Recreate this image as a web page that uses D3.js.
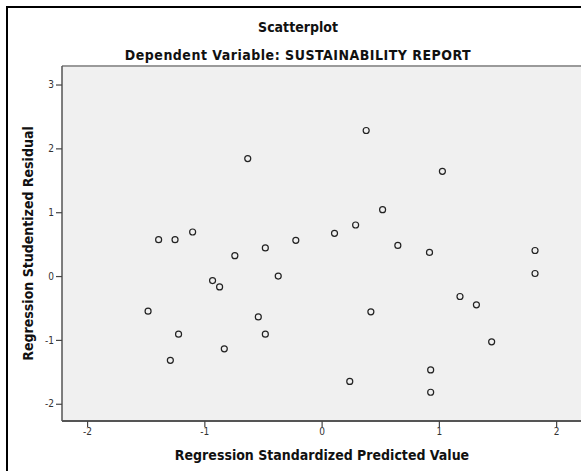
<!doctype html>
<html>

<head>
	<meta charset="UTF-8" />
	<script src="https://d3js.org/d3.v7.min.js"></script>
	<style>
		body { margin: 0; background: #fff; }
		svg { display: block; }
		.tick text { font-family: "DejaVu Sans Condensed", "DejaVu Sans", sans-serif; font-size: 10px; fill: #333; }
		.lbl { font-family: "DejaVu Sans Condensed", "DejaVu Sans", sans-serif; font-weight: bold; fill: #111; font-size: 14px; }
	</style>
</head>

<body>
	<svg id="chart"></svg>

	<script>
		// predicted values (x) and studentized residuals (y)
		const predicted = [-0.63, -1.10, -1.39, -1.25, -0.22, -0.74, -0.48, -0.93, -0.87, -0.37, -1.48, -0.54,
			-1.22, -0.48, -0.83, -1.29, 0.38, 1.03, 0.52, 0.29, 0.11, 0.65, 0.92, 1.82, 1.82, 1.18, 1.32, 0.42,
			1.45, 0.93, 0.24, 0.93];
		const residual = [1.84, 0.69, 0.57, 0.57, 0.56, 0.32, 0.44, -0.07, -0.17, 0.00, -0.55, -0.64,
			-0.91, -0.91, -1.14, -1.32, 2.28, 1.64, 1.04, 0.80, 0.67, 0.48, 0.37, 0.40, 0.04, -0.32, -0.45, -0.56,
			-1.03, -1.47, -1.65, -1.82];
		const xTicks = [-2, -1, 0, 1, 2];
		const yTicks = [-2, -1, 0, 1, 2, 3];

		const title = "Scatterplot";
		const subtitle = "Dependent Variable: SUSTAINABILITY REPORT";
		const xTitle = "Regression Standardized Predicted Value";
		const yTitle = "Regression Studentized Residual";

		const W = 581, H = 471;
		const plot = { left: 62, top: 66, right: 581, bottom: 421 };

		const svg = d3.select("#chart").attr("width", W).attr("height", H);

		const x = d3.scaleLinear().domain([-2.214, 2.212]).range([plot.left, plot.right]);
		const y = d3.scaleLinear().domain([-2.27, 3.29]).range([plot.bottom, plot.top]);

		// outer frame (only top and left visible in the crop)
		svg.append("line").attr("x1", 6).attr("x2", W).attr("y1", 7).attr("y2", 7)
			.attr("stroke", "#000").attr("stroke-width", 2);
		svg.append("line").attr("x1", 7).attr("x2", 7).attr("y1", 6).attr("y2", H)
			.attr("stroke", "#000").attr("stroke-width", 2);

		// plot background
		svg.append("rect")
			.attr("x", plot.left).attr("y", plot.top)
			.attr("width", plot.right - plot.left).attr("height", plot.bottom - plot.top)
			.attr("fill", "#f0f0f0");
		svg.append("line").attr("x1", plot.left).attr("x2", W).attr("y1", plot.top).attr("y2", plot.top)
			.attr("stroke", "#9a9a9a").attr("stroke-width", 2);

		// axes
		const xAxis = svg.append("g")
			.attr("transform", "translate(0," + plot.bottom + ")")
			.call(d3.axisBottom(x).tickValues(xTicks).tickSize(6).tickPadding(1).tickFormat(d3.format("d")));
		const yAxis = svg.append("g")
			.attr("transform", "translate(" + plot.left + ",0)")
			.call(d3.axisLeft(y).tickValues(yTicks).tickSize(6).tickPadding(2).tickFormat(d3.format("d")));

		xAxis.select(".domain").attr("stroke", "#555").attr("stroke-width", 2).attr("d", "M" + plot.left + ",0H" + W);
		yAxis.select(".domain").attr("stroke", "#555").attr("stroke-width", 1.5).attr("d", "M0," + plot.top + "V" + plot.bottom);
		svg.selectAll(".tick line").attr("stroke", "#444").attr("stroke-width", 1.2);
		xAxis.selectAll(".tick text").text(function (d) { return d < 0 ? "-" + Math.abs(d) : d; });
		yAxis.selectAll(".tick text").text(function (d) { return d < 0 ? "-" + Math.abs(d) : d; });

		// points
		const pts = predicted.map(function (v, i) { return { x: v, y: residual[i] }; });
		svg.append("g").selectAll("circle")
			.data(pts)
			.enter().append("circle")
			.attr("cx", function (d) { return x(d.x); })
			.attr("cy", function (d) { return y(d.y); })
			.attr("r", 3)
			.attr("fill", "none")
			.attr("stroke", "#222")
			.attr("stroke-width", 1.2);

		// titles
		svg.append("text").attr("class", "lbl").attr("x", 298).attr("y", 32)
			.attr("text-anchor", "middle").text(title);
		svg.append("text").attr("class", "lbl").attr("x", 298).attr("y", 60)
			.attr("text-anchor", "middle").style("letter-spacing", "0.5px").text(subtitle);
		svg.append("text").attr("class", "lbl").attr("x", 322).attr("y", 460)
			.attr("text-anchor", "middle").text(xTitle);
		svg.append("text").attr("class", "lbl")
			.attr("transform", "translate(33," + (plot.top + plot.bottom) / 2 + ") rotate(-90)")
			.attr("text-anchor", "middle").text(yTitle);
	</script>
</body>

</html>
